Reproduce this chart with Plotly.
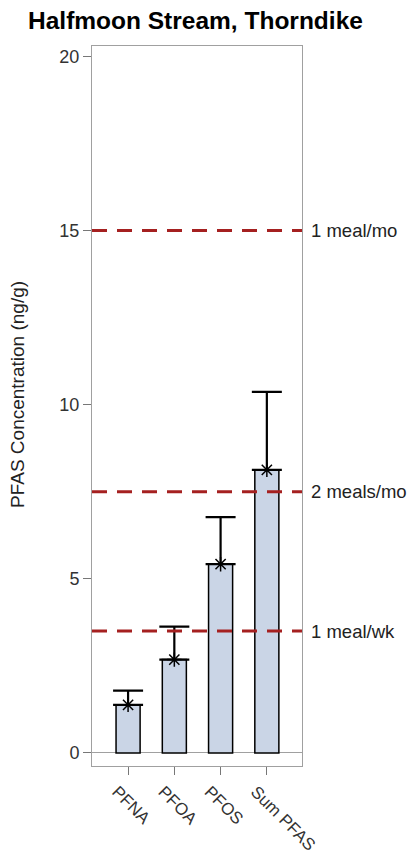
import plotly.graph_objects as go

categories = ["PFNA", "PFOA", "PFOS", "Sum PFAS"]
means = [1.38, 2.68, 5.42, 8.13]
upper = [1.79, 3.63, 6.77, 10.37]
ref_values = [15, 7.5, 3.5]
ref_labels = ["1 meal/mo", "2 meals/mo", "1 meal/wk"]
y_ticks = [0, 5, 10, 15, 20]

x_idx = list(range(len(categories)))
err_plus = [u - m for u, m in zip(upper, means)]

FONT = "Liberation Sans, Arial"

fig = go.Figure()
fig.add_trace(go.Bar(
    x=x_idx, y=means, width=0.52,
    marker=dict(color="#CAD5E6", line=dict(color="#000000", width=1.5)),
    error_y=dict(type="data", symmetric=False, array=err_plus,
                 arrayminus=[0] * len(means), color="#000000",
                 thickness=2.2, width=15),
    showlegend=False, hoverinfo="skip",
))
fig.add_trace(go.Scatter(
    x=x_idx, y=means, mode="markers",
    marker=dict(symbol="asterisk-open", size=12, color="#000000",
                line=dict(color="#000000", width=1.5)),
    showlegend=False, hoverinfo="skip",
))

for v, lab in zip(ref_values, ref_labels):
    fig.add_shape(type="line", xref="paper", x0=0, x1=1, yref="y", y0=v, y1=v,
                  line=dict(color="#A52020", width=3, dash="15px,10px"))
    fig.add_annotation(xref="paper", x=1, yref="y", y=v, text=lab,
                       showarrow=False, xanchor="left", xshift=7,
                       font=dict(family=FONT, size=18.5, color="#222222"))

# title
fig.add_annotation(xref="paper", yref="paper", x=0, y=1, xshift=-66, yshift=26,
                   text="<b>Halfmoon Stream, Thorndike</b>", showarrow=False,
                   xanchor="left", yanchor="middle",
                   font=dict(family=FONT, size=24.5, color="#000000"))
# y axis title
fig.add_annotation(xref="paper", yref="paper", x=0, y=0.5, xshift=-75, yshift=11,
                   text="PFAS Concentration (ng/g)", showarrow=False,
                   textangle=-90, xanchor="center", yanchor="middle",
                   font=dict(family=FONT, size=19, color="#222222"))

fig.update_layout(
    width=408, height=847,
    margin=dict(l=84, r=114, t=38, b=89),
    plot_bgcolor="#FFFFFF", paper_bgcolor="#FFFFFF",
    font=dict(family=FONT, size=18, color="#333333"),
    xaxis=dict(range=[-0.78, 3.76], tickmode="array", tickvals=x_idx,
               ticktext=categories, tickangle=45, ticks="outside", ticklen=8,
               tickcolor="#777777", showline=True, linecolor="#A0A0A0",
               linewidth=1, mirror=True, showgrid=False, zeroline=False,
               automargin=False, ticklabelshift=-11,
               tickfont=dict(family=FONT, size=17, color="#333333")),
    yaxis=dict(range=[-0.375, 20.3], tickmode="array", tickvals=y_ticks,
               ticks="outside", ticklen=8, tickcolor="#777777",
               showline=True, linecolor="#A0A0A0", linewidth=1, mirror=True,
               showgrid=False, zeroline=True, zerolinecolor="#A0A0A0",
               zerolinewidth=1, automargin=False,
               tickfont=dict(family=FONT, size=18, color="#333333")),
)

fig.write_html("out.html")
